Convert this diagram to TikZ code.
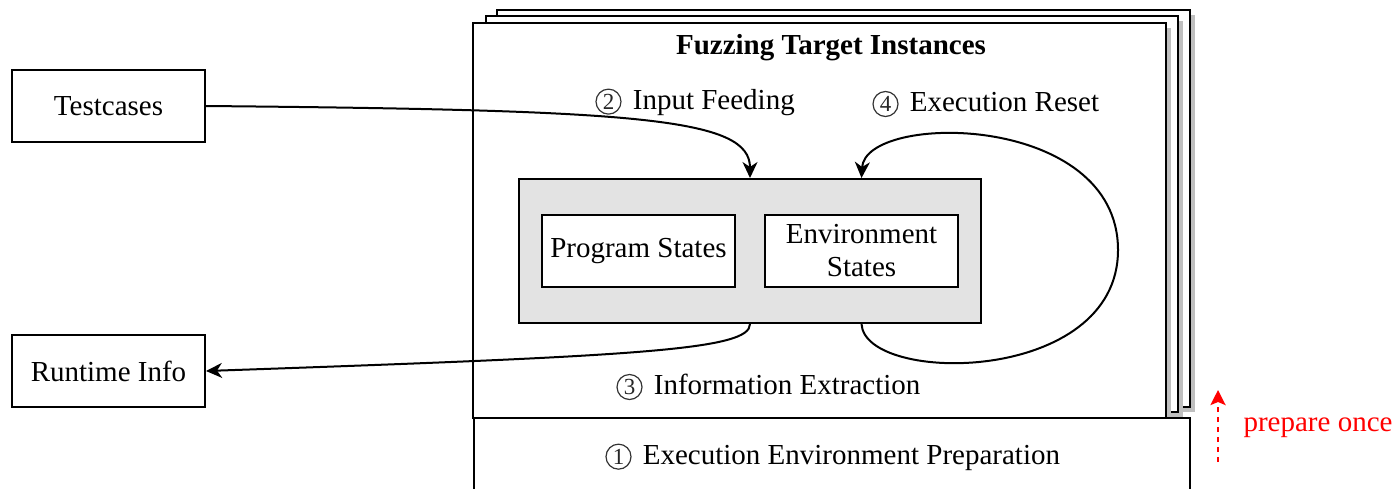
\documentclass[tikz,border=0pt]{standalone}
\usepackage{fontspec}
\setmainfont{Liberation Serif}
\usetikzlibrary{arrows.meta,shadows}
\tikzset{
	box/.style={draw, line width=1pt, fill=white, inner sep=0pt, font=\fontsize{14.5}{16.5}\selectfont},
	frame/.style={draw, line width=1pt, fill=white, drop shadow={shadow xshift=2.5pt, shadow yshift=-2.5pt, fill=black!25, opacity=1}},
	lbl/.style={inner sep=0pt, anchor=west, font=\fontsize{14.5}{16.5}\selectfont},
	flow/.style={line width=1pt, -{Stealth[length=8pt,width=7.5pt,inset=2.5pt]}},
}
\newcommand{\cnum}[1]{\tikz[baseline=(cn.base)]\node[circle, draw=black!80, line width=0.6pt, minimum size=12.5pt, inner sep=0pt, text=black!85] (cn) {\fontsize{11.5}{11.5}\selectfont #1};\hspace{2pt}}

\begin{document}
\begin{tikzpicture}[x=0.5pt, y=-0.5pt]
\useasboundingbox (0,0) rectangle (1396,488);
% stacked instances
\draw[frame] (497,10) rectangle (1190,407);
\draw[frame] (486,16) rectangle (1178,412);
\draw[frame] (473,23) rectangle (1166,418);
\draw[line width=1pt, fill=white] (474,418) rectangle (1190,500);
\node[inner sep=0pt, font=\fontsize{14.5}{16.5}\selectfont\bfseries] (title) at (831,48) {Fuzzing Target Instances};
% outside boxes
\node[box, minimum width=96.5pt, minimum height=36pt] (tc) at (108.5,106) {Testcases};
\node[box, minimum width=96.5pt, minimum height=36pt] (ri) at (108.5,371) {Runtime Info};
% states
\node[box, fill=black!11, minimum width=231pt, minimum height=72pt] (core) at (750,251) {};
\node[box, minimum width=96.5pt, minimum height=36pt] (ps) at (638.5,251) {Program States};
\node[box, minimum width=96.5pt, minimum height=36pt, align=center] (env) at (861.5,251) {Environment\\States};
% labels
\node[lbl] (feed) at (595,102) {\cnum{2} Input Feeding};
\node[lbl] (reset) at (872,104) {\cnum{4} Execution Reset};
\node[lbl] (extract) at (616,387) {\cnum{3} Information Extraction};
\node[lbl] (prep) at (605,457) {\cnum{1} Execution Environment Preparation};
\node[inner sep=0pt, font=\fontsize{14.5}{16.5}\selectfont, text=red] (once) at (1318,428) {prepare once};
% connectors
\draw[flow] (tc.east) .. controls (640,110) and (750,118) .. (core.north);
\draw[flow] (core.south) .. controls (750,350) and (640,356) .. (ri.east);
\draw[flow] (env.south |- core.south) .. controls (865,385) and (1118,385) .. (1118,250)
	.. controls (1118,112) and (865,112) .. (env.north |- core.north);
\coordinate (o1) at (1218,462);
\coordinate (o2) at (1218,390);
\draw[red, line width=1.3pt, dash pattern=on 2.5pt off 2.5pt, -{Stealth[length=7.5pt,width=7.5pt,inset=1.5pt]}] (o1) -- (o2);
\end{tikzpicture}
\end{document}
